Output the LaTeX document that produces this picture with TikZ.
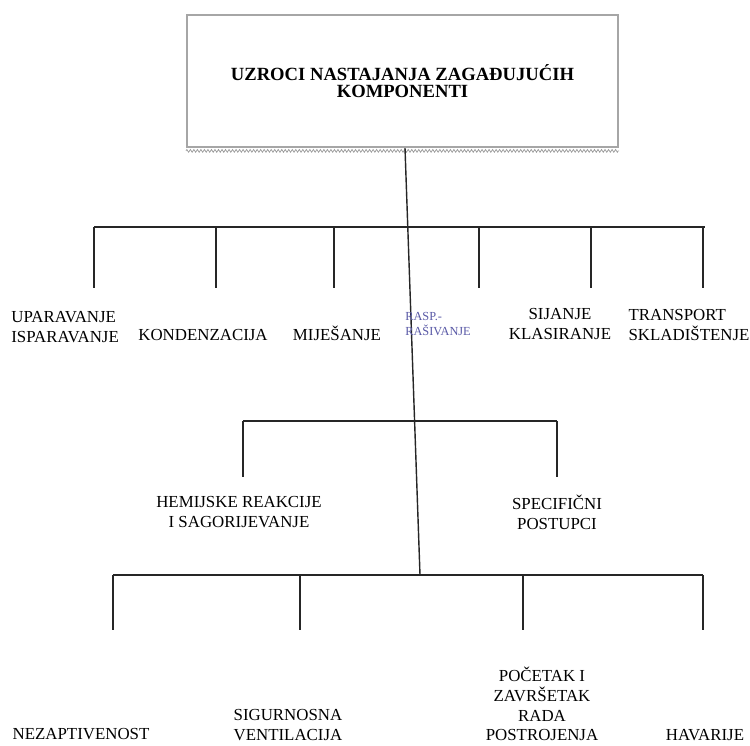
\documentclass[tikz,border=0pt]{standalone}
\usepackage{fontspec}
\setmainfont{Liberation Serif}
\usetikzlibrary{positioning, decorations.pathmorphing}

\begin{document}
\begin{tikzpicture}[
    x=0.02cm, y=-0.02cm,
    % --- Global Styles ---
    base/.style={align=center, inner sep=0pt, font=\fontsize{9.6}{11.3}\selectfont},
    leaf/.style={base},
    leftleaf/.style={base, align=left},
    tinyleaf/.style={base, align=left, font=\fontsize{7}{9}\selectfont, text=blue!30!gray},
    titlebox/.style={draw=gray!70, line width=1.2pt, minimum width=8.62cm, minimum height=2.64cm, align=center, font=\fontsize{10.6}{9.8}\selectfont\bfseries},
    shadow/.style={draw=gray!80, decorate, decoration={zigzag, segment length=2pt, amplitude=0.8pt}},
    branch/.style={draw, line width=0.8pt, color=black!85},
    bus/.style={branch, line width=1pt}
]
    \useasboundingbox (0,0) rectangle (750,745);

    % --- Title ---
    \node[titlebox] (title) at (402.5,81) {UZROCI NASTAJANJA ZAGAĐUJUĆIH\\KOMPONENTI};
    \draw[shadow] ([yshift=-1.6pt]title.south west) -- ([yshift=-1.6pt]title.south east);

    % --- Trunk ---
    \coordinate (trunktop) at ([xshift=0.05cm]title.south);
    \coordinate (trunkend) at (420,575);
    \draw[branch] (trunktop) -- (trunkend);

    % --- First level ---
    \coordinate (busAleft) at (94,227);
    \coordinate (busAright) at (705,227);
    \draw[bus] (busAleft) -- (busAright);
    \foreach \x/\n in {94/a, 216/b, 334/c, 479/d, 591/e, 703/f} {
        \coordinate (up\n) at (\x,227);
        \coordinate (dn\n) at (\x,288);
        \draw[branch] (up\n) -- (dn\n);
    }

    \node[leftleaf, anchor=west] (uparavanje) at (11,327) {UPARAVANJE\\ISPARAVANJE};
    \node[leaf] (kondenzacija) at (203,335) {KONDENZACIJA};
    \node[leaf] (mijesanje) at (337,333) {MIJEŠANJE};
    \node[tinyleaf, anchor=west] (rasp) at (405,324) {RASP.-\\RAŠIVANJE};
    \node[leaf] (sijanje) at (560,324) {SIJANJE\\KLASIRANJE};
    \node[leftleaf] (transport) at (689,325) {TRANSPORT\\SKLADIŠTENJE};

    % --- Second level ---
    \coordinate (busBleft) at (243,421);
    \coordinate (busBright) at (557,421);
    \draw[bus, line width=1.4pt] (busBleft) -- (busBright);
    \foreach \x/\n in {243/g, 557/h} {
        \coordinate (up\n) at (\x,421);
        \coordinate (dn\n) at (\x,477);
        \draw[branch, line width=1.2pt] (up\n) -- (dn\n);
    }

    \node[leaf] (hemijske) at (239,512) {HEMIJSKE REAKCIJE\\I SAGORIJEVANJE};
    \node[leaf] (specificni) at (557,512) {SPECIFIČNI\\POSTUPCI};

    % --- Third level ---
    \coordinate (busCleft) at (113,575);
    \coordinate (busCright) at (703,575);
    \draw[bus] (busCleft) -- (busCright);
    \foreach \x/\n in {113/i, 300/j, 523/k, 703/l} {
        \coordinate (up\n) at (\x,575);
        \coordinate (dn\n) at (\x,630);
        \draw[branch] (up\n) -- (dn\n);
    }

    \node[leaf] (nezaptivenost) at (81,734) {NEZAPTIVENOST};
    \node[leaf] (sigurnosna) at (288,725) {SIGURNOSNA\\VENTILACIJA};
    \node[leaf] (pocetak) at (542,704) {POČETAK I\\ZAVRŠETAK\\RADA\\POSTROJENJA};
    \node[leaf] (havarije) at (705,735) {HAVARIJE};

\end{tikzpicture}
\end{document}
